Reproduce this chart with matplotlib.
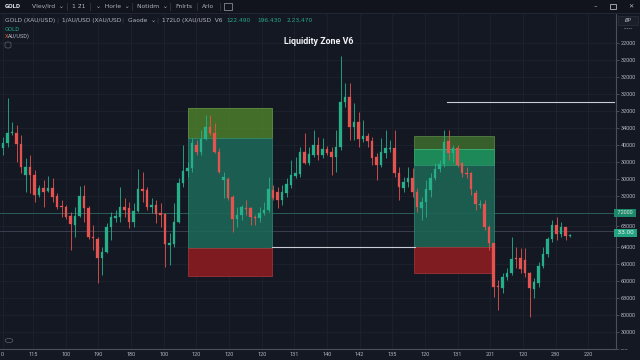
import numpy as np
import matplotlib
matplotlib.use("Agg")
import matplotlib.pyplot as plt
from matplotlib.patches import Rectangle, Circle, FancyBboxPatch

# ---------------- data ----------------
opens = [2352, 2357, 2367, 2367, 2356, 2325, 2333, 2325, 2305, 2312,
         2309, 2312, 2304, 2294, 2293, 2284, 2275, 2284, 2304, 2292,
         2263, 2261, 2242, 2248, 2273, 2282, 2283, 2293, 2292, 2278,
         2289, 2311, 2310, 2293, 2295, 2287, 2286, 2255, 2256, 2278,
         2317, 2329, 2332, 2355, 2348, 2361, 2373, 2367, 2348, 2320,
         2321, 2303, 2281, 2285, 2292, 2292, 2283, 2282, 2287, 2290,
         2310, 2308, 2300, 2307, 2315, 2324, 2326, 2348, 2337, 2345,
         2355, 2345, 2351, 2348, 2343, 2353, 2398, 2403, 2373, 2378,
         2361, 2364, 2359, 2343, 2335, 2347, 2351, 2352, 2327, 2312,
         2318, 2322, 2308, 2292, 2298, 2310, 2322, 2331, 2336, 2359,
         2347, 2352, 2337, 2327, 2327, 2307, 2295, 2296, 2273, 2257,
         2214, 2212, 2223, 2227, 2242, 2242, 2240, 2227, 2211, 2217,
         2234, 2246, 2261, 2275, 2266, 2273, 2264]
closes = [2357, 2367, 2368, 2356, 2333, 2333, 2325, 2305, 2312, 2308,
          2312, 2303, 2293, 2293, 2283, 2276, 2284, 2304, 2292, 2263,
          2262, 2242, 2248, 2273, 2283, 2284, 2293, 2290, 2278, 2289,
          2311, 2309, 2293, 2295, 2286, 2285, 2256, 2257, 2278, 2317,
          2329, 2332, 2357, 2348, 2361, 2373, 2367, 2348, 2328, 2323,
          2302, 2281, 2285, 2293, 2291, 2283, 2282, 2287, 2290, 2311,
          2302, 2300, 2308, 2316, 2325, 2327, 2348, 2337, 2346, 2355,
          2345, 2351, 2347, 2343, 2353, 2398, 2403, 2373, 2378, 2361,
          2364, 2359, 2342, 2335, 2348, 2352, 2352, 2327, 2313, 2318,
          2322, 2308, 2293, 2298, 2311, 2322, 2331, 2336, 2358, 2347,
          2352, 2335, 2327, 2326, 2311, 2296, 2296, 2273, 2257, 2213,
          2213, 2223, 2227, 2241, 2241, 2231, 2227, 2212, 2218, 2234,
          2246, 2261, 2275, 2266, 2273, 2264, 2265]
highs = [2363, 2402, 2378, 2375, 2365, 2342, 2345, 2330, 2315, 2320,
         2324, 2322, 2307, 2300, 2295, 2288, 2293, 2314, 2315, 2294,
         2275, 2263, 2253, 2277, 2288, 2290, 2313, 2302, 2298, 2297,
         2331, 2328, 2313, 2302, 2300, 2297, 2287, 2267, 2297, 2322,
         2355, 2338, 2362, 2360, 2370, 2385, 2385, 2377, 2352, 2328,
         2323, 2305, 2293, 2295, 2300, 2293, 2285, 2293, 2298, 2323,
         2315, 2313, 2315, 2322, 2340, 2343, 2353, 2367, 2353, 2370,
         2363, 2362, 2354, 2353, 2370, 2444, 2417, 2417, 2397, 2388,
         2380, 2367, 2363, 2347, 2362, 2370, 2360, 2370, 2333, 2323,
         2333, 2332, 2312, 2303, 2320, 2327, 2337, 2340, 2370, 2370,
         2355, 2355, 2338, 2333, 2328, 2310, 2300, 2300, 2275, 2257,
         2220, 2227, 2232, 2263, 2253, 2252, 2252, 2228, 2222, 2238,
         2253, 2263, 2280, 2283, 2278, 2273, 2266]
lows = [2345, 2353, 2365, 2338, 2327, 2308, 2307, 2298, 2303, 2293,
        2308, 2298, 2291, 2283, 2281, 2250, 2263, 2283, 2278, 2261,
        2250, 2217, 2225, 2247, 2260, 2278, 2278, 2283, 2272, 2273,
        2288, 2298, 2290, 2287, 2277, 2273, 2233, 2235, 2253, 2277,
        2313, 2323, 2328, 2345, 2345, 2360, 2365, 2347, 2327, 2302,
        2300, 2268, 2273, 2280, 2285, 2275, 2275, 2278, 2285, 2288,
        2300, 2292, 2295, 2303, 2312, 2322, 2323, 2336, 2335, 2343,
        2340, 2342, 2345, 2325, 2328, 2350, 2393, 2360, 2360, 2353,
        2358, 2353, 2335, 2320, 2333, 2342, 2348, 2323, 2300, 2308,
        2313, 2303, 2288, 2280, 2283, 2303, 2320, 2328, 2333, 2340,
        2338, 2333, 2323, 2322, 2305, 2290, 2292, 2270, 2250, 2203,
        2190, 2207, 2220, 2225, 2232, 2227, 2223, 2183, 2202, 2213,
        2232, 2243, 2258, 2260, 2263, 2260, 2263]

x_labels = ["0", "115", "100", "190", "180", "100", "120", "120", "120", "131",
            "140", "142", "135", "120", "131", "201", "120", "230", "220"]
y_labels = ["22000", "32000", "32000", "32000", "32000", "34000", "40000", "30000",
            "30000", "32000", "72000", "68000", "64000", "60000", "60000", "63000",
            "80000", "30000", "-----"]
y_label_prices = [2457, 2440, 2423, 2406, 2389, 2372, 2355, 2338, 2321, 2304,
                  2287, 2274, 2253, 2236, 2219, 2202, 2185, 2168, 2151]

# liquidity zones: (start bar, end bar), price levels top -> bottom
zone1_bars = (41.0, 59.8)
zone1_levels = [2392, 2362, 2252, 2224]
zone2_bars = (91.3, 109.1)
zone2_levels = [2364, 2351, 2335, 2253, 2227]
support_line = (59.8, 91.6, 2253)
resist_line = (98.7, 135.8, 2398)
level_a = 2287
level_b = 2269
last_price_label = "33.00"
last_price = 2267
level_a_label = "72000"

# ---------------- style ----------------
BG = "#141823"
GRID = "#1f2431"
UP = "#26b08a"
DN = "#e5534f"
TXT = "#b2b5be"
FONT = "Roboto"

W, H = 640, 360
fig = plt.figure(figsize=(6.4, 3.6), dpi=100, facecolor=BG)


def fx(px):
    return px / W


def fy(py):
    return 1 - py / H


# top toolbar
fig.patches.append(Rectangle((0, fy(13)), 1, 13 / H, transform=fig.transFigure,
                             color="#11141c", zorder=0))
fig.lines.append(plt.Line2D([0, 1], [fy(13), fy(13)], transform=fig.transFigure,
                            color="#262b38", lw=0.6))

ax = fig.add_axes([0, fy(349), 616 / W, (349 - 13) / H])
ax.set_facecolor(BG)
ax.set_xlim(-0.667, 136.22)
ax.set_ylim(2151, 2487)

# grid / ticks
tick_px = 0.5 + 32.65 * np.arange(len(x_labels))
tick_px[0] = 2.5
ax.set_xticks((tick_px - 3) / 4.5)
ax.set_xticklabels(x_labels)
ax.yaxis.tick_right()
ax.set_yticks(y_label_prices)
# the level_a tick text is shown inside its highlighted price tag instead
ax.set_yticklabels(["" if t == level_a_label else t for t in y_labels])
ax.tick_params(axis="x", length=0, pad=2.5, labelsize=4, labelcolor=TXT)
ax.tick_params(axis="y", length=2, width=0.5, color="#5d6270", pad=1.5,
               labelsize=4, labelcolor=TXT)
for lab in ax.get_xticklabels() + ax.get_yticklabels():
    lab.set_fontfamily(FONT)
ax.grid(True, color=GRID, lw=0.5, zorder=0)
ax.set_axisbelow(True)
for s in ["top", "left"]:
    ax.spines[s].set_visible(False)
ax.spines["right"].set_color("#4a4f5c")
ax.spines["right"].set_linewidth(0.8)
ax.spines["bottom"].set_color("#4a4f5c")
ax.spines["bottom"].set_linewidth(0.8)

# full width levels
ax.axhline(level_a, color="#2f6b63", lw=0.7, alpha=0.8, zorder=1)
ax.axhline(level_b, color="#3a4050", lw=0.7, zorder=1)


def zone(bars, levels, colors, edges):
    x0, x1 = bars
    for (top, bot), c, e in zip(zip(levels[:-1], levels[1:]), colors, edges):
        ax.add_patch(Rectangle((x0, bot), x1 - x0, top - bot, facecolor=c,
                               edgecolor=e, lw=0.6, alpha=0.88, zorder=1.5))


zone(zone1_bars, zone1_levels,
     ["#4a7b2c", "#1d6858", "#8c1c20"],
     ["#6a9c45", "#2e8a70", "#a8363a"])
zone(zone2_bars, zone2_levels,
     ["#3d6a2d", "#1f9860", "#1c6656", "#8e1d22"],
     ["#5a8a44", "#3cb57a", "#2e8a70", "#a8363a"])

ax.plot(support_line[:2], [support_line[2]] * 2, color="#c9ccd3", lw=0.8, zorder=2)
ax.plot(resist_line[:2], [resist_line[2]] * 2, color="#c9ccd3", lw=0.8, zorder=2)

# candles
idx = np.arange(len(opens))
o = np.array(opens); c = np.array(closes)
h = np.array(highs); l = np.array(lows)
cols = np.where(c >= o, UP, DN)
ax.vlines(idx, l, h, colors=cols, lw=0.6, zorder=3)
body_lo = np.minimum(o, c)
body_h = np.maximum(np.abs(c - o), 1.0)
ax.bar(idx, body_h, bottom=body_lo, width=0.64, color=cols, edgecolor=cols,
       lw=0.2, zorder=4)

# price tags on right axis
yt = ax.get_yaxis_transform()
ax.text(1.0, level_a, " " + level_a_label + " ", transform=yt, ha="left", va="center",
        fontsize=4, color="#dfe6e3", family=FONT, clip_on=False, zorder=6,
        bbox=dict(boxstyle="square,pad=0.35", fc="#1c8a6a", ec="none"))
ax.text(1.0, last_price, " " + last_price_label + " ", transform=yt, ha="left", va="center",
        fontsize=4.6, color="#e8f4ef", family=FONT, clip_on=False, zorder=6,
        bbox=dict(boxstyle="square,pad=0.25", fc="#24a383", ec="none"))

# ---------------- header texts ----------------
row1 = fy(6.5)
fig.text(fx(5), row1, "GOLD", fontsize=4.6, weight="bold", color="#e6e8ee",
         family=FONT, va="center")
items1 = [(32, "Vlev/lrd  ⌄"), (72, "1 2̄1"), (96, "⌄  Horle  ⌄"),
          (137, "Notidm  ⌄"), (175, "Fnlrts"), (202, "Arlo")]
for px, t in items1:
    fig.text(fx(px), row1, t, fontsize=4.3, color=TXT, family=["DejaVu Sans"], va="center")
for px in [67, 90, 132, 170, 197, 220]:
    fig.lines.append(plt.Line2D([fx(px)] * 2, [fy(3), fy(10)], transform=fig.transFigure,
                                color="#30353f", lw=0.6))
fig.patches.append(Rectangle((fx(224), fy(10)), 8 / W, 7 / H, transform=fig.transFigure,
                             fill=False, ec="#9aa0aa", lw=0.5))
fig.text(fx(595), row1, "–", fontsize=5, color=TXT, ha="center", va="center")
fig.patches.append(Rectangle((fx(610), fy(9)), 5.5 / W, 5.5 / H, transform=fig.transFigure,
                             fill=False, ec=TXT, lw=0.6))
fig.text(fx(631), row1, "✕", fontsize=4.5, color=TXT, ha="center", va="center",
         family="DejaVu Sans")

row2 = fy(20.5)
items2 = [(5, "GOLD (XAU/USD)", TXT), (56, "|", "#3a3f4b"), (62, "1/AU/USD (XAU/USD", TXT),
          (121, "|", "#3a3f4b"), (128, "Gaode  ⌄", TXT), (156, "|", "#3a3f4b"),
          (162, "172L0 (XAU/USD  V6", TXT), (226, "122.490", "#26a685"),
          (257, "196.430", "#26a685"), (287, "2.23,470", "#26a685")]
for px, t, col in items2:
    fig.text(fx(px), row2, t, fontsize=4.2, color=col, family=["DejaVu Sans"], va="center")

fig.text(fx(5), fy(29.5), "GOLD", fontsize=4.2, color="#26a685", family=FONT, va="center")
fig.text(fx(5), fy(36.5), "X", fontsize=4, color="#e0613e", family=FONT, va="center")
fig.text(fx(8), fy(36.5), "AU/USD)", fontsize=4, color=TXT, family=FONT, va="center")
fig.patches.append(FancyBboxPatch((fx(5), fy(48)), 6 / W, 6 / H, transform=fig.transFigure,
                                  boxstyle="round,pad=0,rounding_size=0.004",
                                  fill=False, ec="#5d6270", lw=0.5))

# right top label
fig.patches.append(Rectangle((fx(618), fy(25)), 20 / W, 9 / H, transform=fig.transFigure,
                             fc="#1b1f2a", ec="#2c313d", lw=0.5))
fig.text(fx(628), fy(20.5), "ɃP", fontsize=3.8, color=TXT, ha="center", va="center",
         family="DejaVu Sans", style="italic")
fig.text(fx(628), fy(28.5), "-----", fontsize=3.8, color=TXT, ha="center", va="center")

# bottom-left circle icon
fig.patches.append(Circle((fx(9), fy(340.5)), 3.8 / W, transform=fig.transFigure,
                          fill=False, ec="#5d6270", lw=0.5))

# title
fig.text(fx(319), fy(42), "Liquidity Zone V6", fontsize=6.4, weight="semibold",
         color="#f2f3f5", family=FONT, ha="center", va="center")

fig.savefig("out.png", dpi=100, facecolor=BG)
